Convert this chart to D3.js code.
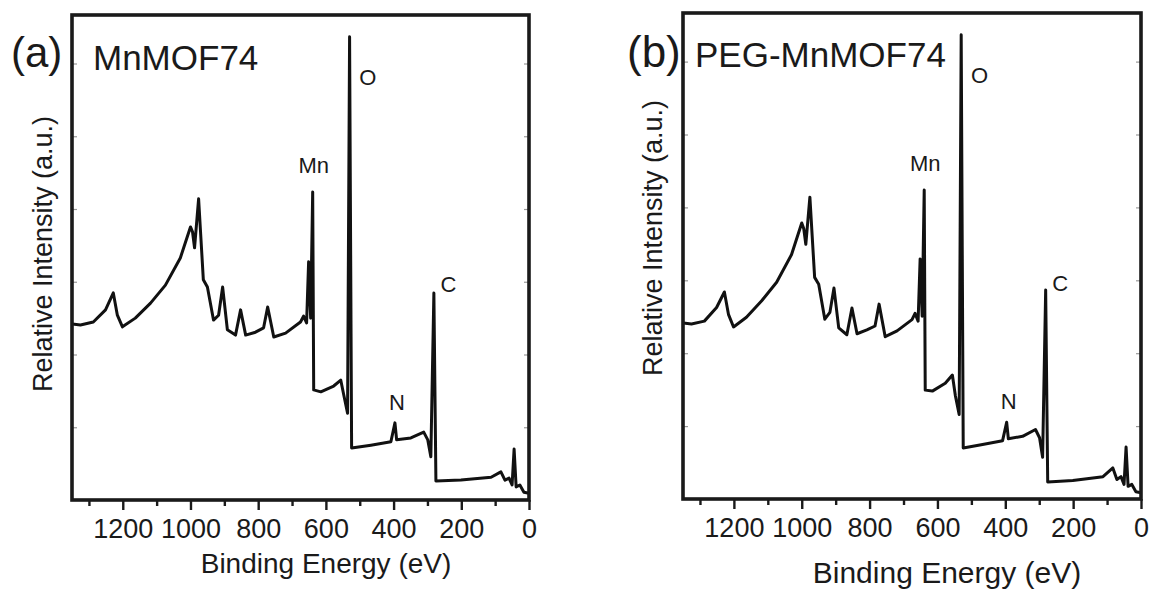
<!DOCTYPE html>
<html>
<head>
<meta charset="utf-8">
<script src="https://cdn.jsdelivr.net/npm/d3@7"></script>
<style>
  body { margin: 0; background: #fff; }
  svg { display: block; }
  text { font-family: "Liberation Sans", Arial, sans-serif; fill: #1a1a1a; }
</style>
</head>
<body>
<svg id="chart" width="1150" height="595"></svg>
<script>
// binding energy (eV) sampled along the survey scans
const energy = [1349, 1325, 1287, 1251, 1228, 1216, 1201, 1163, 1118, 1074,
  1030, 1000, 994, 988, 976, 962, 950, 932, 917, 905,
  891, 867, 852, 837, 808, 784, 772, 754, 719, 675,
  666, 657, 651, 645, 639, 636, 615, 577, 556, 547,
  536, 530, 524, 467, 408, 396, 391, 349, 311, 299,
  290, 281, 275, 201, 112, 83, 71, 59, 50, 44,
  38, 27, 15, 0];

// relative intensity (a.u.), 0 = bottom of frame, 100 = top
const intensityA = [36.3, 36.1, 36.7, 39.2, 42.7, 38.1, 35.7, 37.5, 40.6, 44.3,
  49.9, 56.3, 55.3, 52.0, 62.1, 45.4, 43.9, 37.1, 38.1, 43.9,
  35.1, 34.0, 39.2, 34.0, 34.6, 35.5, 39.8, 33.6, 34.4, 36.7,
  37.9, 36.5, 49.1, 37.5, 63.5, 22.7, 22.3, 23.5, 24.7, 21.6,
  17.9, 95.5, 10.7, 11.3, 12.0, 15.9, 12.4, 12.8, 14.0, 12.4,
  8.9, 42.7, 3.9, 4.1, 4.7, 5.8, 4.1, 4.5, 3.1, 10.5,
  2.7, 3.1, 1.6, 1.4];

const intensityB = [36.2, 36.0, 36.6, 39.4, 42.6, 38.0, 35.4, 37.4, 40.8, 44.6,
  50.3, 56.8, 55.6, 52.4, 62.1, 45.6, 44.2, 37.0, 38.4, 43.4,
  35.2, 33.8, 39.3, 34.0, 34.8, 35.6, 40.1, 33.4, 34.6, 36.9,
  38.2, 36.6, 49.4, 37.6, 63.6, 22.4, 22.2, 23.8, 25.5, 21.2,
  17.4, 95.5, 10.5, 11.2, 12.0, 15.8, 12.4, 12.9, 14.3, 12.6,
  8.6, 43.0, 3.5, 3.8, 4.6, 6.4, 4.0, 4.6, 3.0, 10.7,
  2.6, 3.0, 1.5, 1.3];

const majorTicks = [1200, 1000, 800, 600, 400, 200, 0];
const minorTicks = [1300, 1100, 900, 700, 500, 300, 100];
const sideTicks = [15, 30, 45, 60, 75, 90];

const peakNames = ["Mn", "O", "N", "C"];
const peakEnergy = [636, 476, 390, 238];
const peakLevel = [67.4, 85.6, 18.6, 42.9];

const panels = [
  { tag: "(a)", name: "MnMOF74", values: intensityA,
    left: 72, top: 15, right: 529, bottom: 500,
    tickFont: 27, titleFont: 28, titleX: 326, titleY: 573,
    yTitleX: 43, yTitleY: 254, tagX: 11, tagSize: 42, nameX: 93, nameY: 70 },
  { tag: "(b)", name: "PEG-MnMOF74", values: intensityB,
    left: 683, top: 13, right: 1141, bottom: 499,
    tickFont: 27, titleFont: 30, titleX: 947, titleY: 583,
    yTitleX: 653, yTitleY: 238, tagX: 627, tagSize: 44, nameX: 695, nameY: 67 }
];

const svg = d3.select("#chart");
svg.append("rect").attr("width", 1150).attr("height", 595).attr("fill", "#fff");

panels.forEach(p => {
  const x = d3.scaleLinear().domain([1350, 0]).range([p.left, p.right]);
  const y = d3.scaleLinear().domain([0, 100]).range([p.bottom, p.top]);
  const g = svg.append("g");

  // bottom axis: long major ticks, short minor ticks
  const major = g.append("g")
    .attr("transform", `translate(0,${p.bottom})`)
    .call(d3.axisBottom(x).tickValues(majorTicks).tickSize(10).tickPadding(9).tickFormat(d3.format("d")));
  major.select(".domain").remove();
  major.selectAll("line").attr("stroke", "#1a1a1a").attr("stroke-width", 2.4);
  major.selectAll("text")
    .style("font-size", p.tickFont + "px")
    .style("fill", "#1a1a1a");

  const minor = g.append("g")
    .attr("transform", `translate(0,${p.bottom})`)
    .call(d3.axisBottom(x).tickValues(minorTicks).tickSize(6).tickFormat(""));
  minor.select(".domain").remove();
  minor.selectAll("line").attr("stroke", "#1a1a1a").attr("stroke-width", 2.4);

  // small inward ticks on the side borders
  const left = g.append("g")
    .attr("transform", `translate(${p.left},0)`)
    .call(d3.axisRight(y).tickValues(sideTicks).tickSize(5).tickFormat(""));
  left.select(".domain").remove();
  left.selectAll("line").attr("stroke", "#999").attr("stroke-width", 1.2);

  const right = g.append("g")
    .attr("transform", `translate(${p.right},0)`)
    .call(d3.axisLeft(y).tickValues(sideTicks).tickSize(5).tickFormat(""));
  right.select(".domain").remove();
  right.selectAll("line").attr("stroke", "#999").attr("stroke-width", 1.2);

  // spectrum
  const line = d3.line()
    .x((d, i) => x(energy[i]))
    .y(d => y(d));

  g.append("path")
    .datum(p.values)
    .attr("d", line)
    .attr("fill", "none")
    .attr("stroke", "#111")
    .attr("stroke-width", 3)
    .attr("stroke-linejoin", "round");

  // frame
  g.append("rect")
    .attr("x", p.left).attr("y", p.top)
    .attr("width", p.right - p.left).attr("height", p.bottom - p.top)
    .attr("fill", "none")
    .attr("stroke", "#1a1a1a")
    .attr("stroke-width", 3.6);

  // peak labels
  g.selectAll(".peak")
    .data(peakNames)
    .enter()
    .append("text")
    .attr("class", "peak")
    .attr("x", (d, i) => x(peakEnergy[i]))
    .attr("y", (d, i) => y(peakLevel[i]))
    .attr("text-anchor", "middle")
    .attr("font-size", 22)
    .text(d => d);

  // panel tag and sample name
  g.append("text")
    .attr("x", p.tagX).attr("y", 67)
    .attr("font-size", p.tagSize)
    .text(p.tag);

  g.append("text")
    .attr("x", p.nameX).attr("y", p.nameY)
    .attr("font-size", 35)
    .text(p.name);

  // axis titles
  g.append("text")
    .attr("x", p.titleX).attr("y", p.titleY)
    .attr("text-anchor", "middle")
    .attr("font-size", p.titleFont)
    .attr("fill", "#2a2a2a")
    .text("Binding Energy (eV)");

  g.append("text")
    .attr("transform", `translate(${p.yTitleX},${p.yTitleY}) rotate(-90)`)
    .attr("text-anchor", "middle")
    .attr("dy", "0.35em")
    .attr("font-size", 27)
    .attr("fill", "#444")
    .text("Relative Intensity (a.u.)");
});
</script>
</body>
</html>
